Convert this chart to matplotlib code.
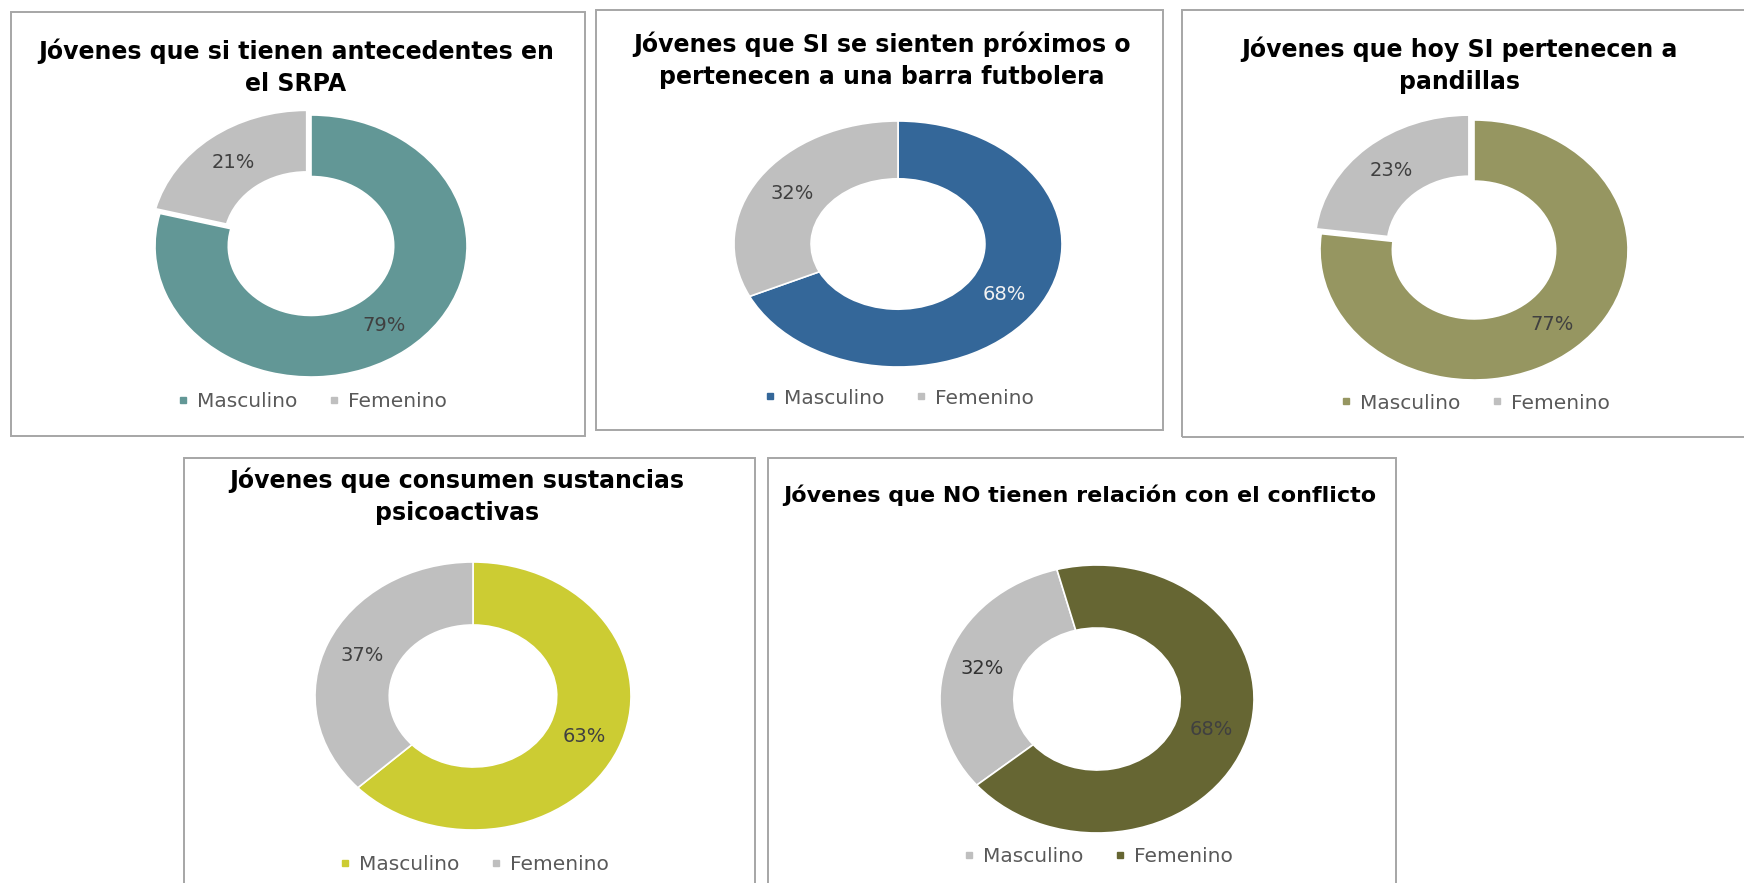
import matplotlib
matplotlib.use("Agg")
import matplotlib.pyplot as plt
from matplotlib.lines import Line2D
from matplotlib.patches import Rectangle

W, H = 1744, 883

# datos
titulos = [
    "Jóvenes que si tienen antecedentes en\nel SRPA",
    "Jóvenes que SI se sienten próximos o\npertenecen a una barra futbolera",
    "Jóvenes que hoy SI pertenecen a\npandillas",
    "Jóvenes que consumen sustancias\npsicoactivas",
    "Jóvenes que NO tienen relación con el conflicto",
]
categorias = ["Masculino", "Femenino"]
masculino = [79, 68, 77, 63, 32]
femenino = [21, 32, 23, 37, 68]
colores_masc = ["#629796", "#346799", "#969661", "#CCCC33", "#BFBFBF"]
colores_fem = ["#BFBFBF", "#BFBFBF", "#BFBFBF", "#BFBFBF", "#666633"]

# disposicion en pixeles (y medida desde arriba)
marcos = [(11, 12, 585, 436), (596, 10, 1163, 430), (1182, 10, 1752, 437),
          (184, 458, 755, 892), (768, 458, 1396, 892)]
donas = [(311, 246, 156, 131), (898, 244, 164, 123), (1474, 250, 154, 130),
         (473, 696, 158, 134), (1097, 699, 157, 134)]
titulo_pos = [(296, 67), (882, 60), (1459, 65), (457, 496), (1080, 495)]
titulo_size = [17, 17, 17, 17, 16]
leyenda_y = [402, 398, 403, 865, 857]
angulo_inicio = [90, 90, 90, 90, 220]
separar_fem = [0.045, 0, 0.05, 0, 0]
color_txt_masc = ["#404040", "#F2F2F2", "#404040", "#404040", "#333333"]

plt.rcParams['font.family'] = ['DejaVu Sans']

fig = plt.figure(figsize=(W / 100, H / 100), dpi=100)
fig.patch.set_facecolor('white')

for i in range(len(titulos)):
    x0, y0, x1, y1 = marcos[i]
    fig.add_artist(Rectangle((x0 / W, 1 - y1 / H), (x1 - x0) / W, (y1 - y0) / H,
                             transform=fig.transFigure, fill=False,
                             edgecolor='#A6A6A6', linewidth=1.4))

    cx, cy, rx, ry = donas[i]
    m = 1.2
    ax = fig.add_axes([(cx - m * rx) / W, 1 - (cy + m * ry) / H,
                       2 * m * rx / W, 2 * m * ry / H])
    wedges, _, autotexts = ax.pie(
        [masculino[i], femenino[i]],
        colors=[colores_masc[i], colores_fem[i]],
        startangle=angulo_inicio[i], counterclock=False,
        explode=[0, separar_fem[i]],
        autopct=lambda p: f'{p:.0f}%', pctdistance=0.765,
        wedgeprops=dict(width=0.47, edgecolor='white', linewidth=1.2),
        textprops=dict(fontsize=14, color='#404040'))
    autotexts[0].set_color(color_txt_masc[i])
    ax.set_xlim(-m, m)
    ax.set_ylim(-m, m)
    ax.set_aspect('auto')
    ax.axis('off')

    tx, ty = titulo_pos[i]
    fig.text(tx / W, 1 - ty / H, titulos[i], ha='center', va='center',
             fontsize=titulo_size[i], fontweight='bold', linespacing=1.4,
             color='black')

    handles = [Line2D([], [], marker='s', linestyle='none', markersize=5,
                      color=c) for c in (colores_masc[i], colores_fem[i])]
    fig.legend(handles, categorias, loc='center',
               bbox_to_anchor=(cx / W, 1 - leyenda_y[i] / H),
               ncol=2, frameon=False, fontsize=14.5, labelcolor='#595959',
               handletextpad=0.3, columnspacing=1.4, handlelength=0.8,
               borderpad=0, borderaxespad=0)

fig.savefig('out.png', dpi=100, facecolor='white')
